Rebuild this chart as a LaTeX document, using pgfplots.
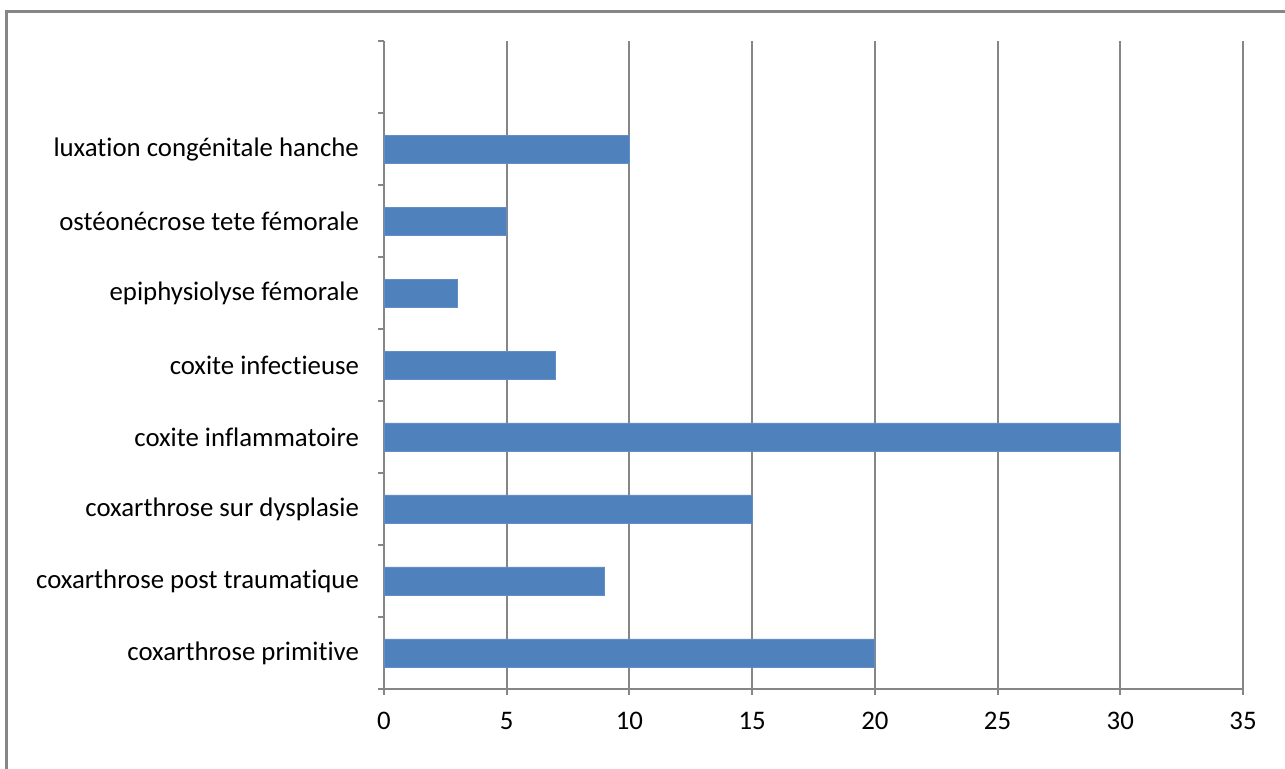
\documentclass[border=0pt]{standalone}
\usepackage{fontspec}
\setmainfont{Carlito}[Ligatures=NoCommon]
\usepackage{pgfplots}
\pgfplotsset{compat=1.18}
\definecolor{barblue}{HTML}{4F81BD}
\definecolor{axgray}{HTML}{868686}
\begin{document}
\begin{tikzpicture}
\path[use as bounding box] (0,0) rectangle (642.5pt,384.5pt);
\draw[color=axgray, line width=1.5pt] (3pt,0) -- (3pt,378.5pt) -- (642.5pt,378.5pt);
\begin{axis}[
  at={(192pt,40pt)}, anchor=south west,
  scale only axis, width=429.5pt, height=324pt,
  xbar, bar width=14pt,
  xmin=0, xmax=35, xtick={0,5,...,35},
  ymin=-0.5, ymax=8.5,
  ytick={0,...,7},
  yticklabels={coxarthrose primitive,coxarthrose post traumatique,coxarthrose sur dysplasie,coxite inflammatoire,coxite infectieuse,epiphysiolyse fémorale,ostéonécrose tete fémorale,luxation congénitale hanche},
  minor ytick={-0.5,0.5,...,8.5},
  major tick length=0pt, minor tick length=3pt,
  tick align=outside,
  extra x ticks={0,5,...,35}, extra x tick labels={},
  extra x tick style={major tick length=3pt, grid=none},
  axis x line*=bottom, axis y line*=left,
  axis line style={draw=axgray, line width=1pt, -},
  tick style={draw=axgray, line width=1pt},
  xmajorgrids, major grid style={draw=axgray, line width=1pt},
  font=\fontsize{13.4pt}{15pt}\selectfont,
  /pgf/number format/assume math mode=true,
  xticklabel style={yshift=-8pt},
  yticklabel style={xshift=-9pt},
]
\addplot[fill=barblue, draw=barblue!90!white] coordinates {(20,0) (9,1) (15,2) (30,3) (7,4) (3,5) (5,6) (10,7)};
\end{axis}
\end{tikzpicture}
\end{document}
